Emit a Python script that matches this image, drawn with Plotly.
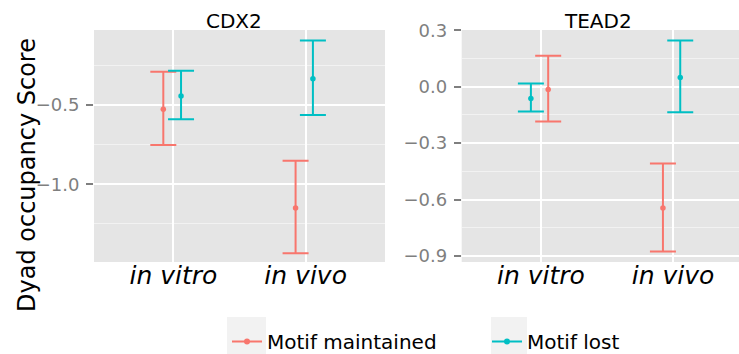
import plotly.graph_objects as go

W, H = 739, 354

categories = ["in vitro", "in vivo"]
series = ["Motif maintained", "Motif lost"]
colors = {"Motif maintained": "#F8766D", "Motif lost": "#00BFC4"}

# CDX2 panel: mean, upper, lower per category
cdx2_maint_mean = [-0.527, -1.149]
cdx2_maint_hi = [-0.290, -0.851]
cdx2_maint_lo = [-0.752, -1.435]
cdx2_lost_mean = [-0.443, -0.334]
cdx2_lost_hi = [-0.284, -0.094]
cdx2_lost_lo = [-0.590, -0.563]

# TEAD2 panel
tead2_maint_mean = [-0.014, -0.645]
tead2_maint_hi = [0.165, -0.408]
tead2_maint_lo = [-0.185, -0.876]
tead2_lost_mean = [-0.062, 0.049]
tead2_lost_hi = [0.017, 0.246]
tead2_lost_lo = [-0.132, -0.136]

# horizontal dodge of each point (category units)
cdx2_maint_dodge = [-0.076, -0.076]
cdx2_lost_dodge = [0.058, 0.055]
tead2_maint_dodge = [0.055, -0.076]
tead2_lost_dodge = [-0.076, 0.055]

panel_titles = ["CDX2", "TEAD2"]
cdx2_ticks = [-1.0, -0.5]
cdx2_minor = [-1.25, -0.75, -0.25]
tead2_ticks = [-0.9, -0.6, -0.3, 0.0, 0.3]
tead2_minor = [-0.75, -0.45, -0.15, 0.15]

FONT = "DejaVu Sans"
fig = go.Figure()

def add(mean, hi, lo, dodge, name, xa, ya):
    xs = [i + 1 + d for i, d in enumerate(dodge)]
    fig.add_trace(go.Scatter(
        x=xs, y=mean, mode="markers", name=name, showlegend=False,
        marker=dict(color=colors[name], size=5.5),
        error_y=dict(type="data", symmetric=False,
                     array=[h - m for h, m in zip(hi, mean)],
                     arrayminus=[m - l for m, l in zip(mean, lo)],
                     color=colors[name], thickness=2, width=13),
        xaxis=xa, yaxis=ya, hoverinfo="skip"))

add(cdx2_maint_mean, cdx2_maint_hi, cdx2_maint_lo, cdx2_maint_dodge, series[0], "x", "y")
add(cdx2_lost_mean, cdx2_lost_hi, cdx2_lost_lo, cdx2_lost_dodge, series[1], "x", "y")
add(tead2_maint_mean, tead2_maint_hi, tead2_maint_lo, tead2_maint_dodge, series[0], "x2", "y2")
add(tead2_lost_mean, tead2_lost_hi, tead2_lost_lo, tead2_lost_dodge, series[1], "x2", "y2")

for s in series:
    fig.add_trace(go.Scatter(x=[None], y=[None], mode="lines+markers", name=s,
                             line=dict(color=colors[s], width=2),
                             marker=dict(color=colors[s], size=6),
                             xaxis="x", yaxis="y"))

ydom = [(H - 262) / H, (H - 30) / H]
xcommon = dict(tickvals=[1, 2], ticktext=categories, showgrid=True, gridcolor="white",
               gridwidth=2, zeroline=False, ticks="", ticklabelstandoff=-4,
               tickfont=dict(family=FONT, size=25, color="black", style="italic"),
               showline=False)
ycommon = dict(showgrid=True, gridcolor="white", gridwidth=2, zeroline=False,
               ticks="outside", ticklen=7, tickwidth=1.5, tickcolor="#7F7F7F", tickformat=".1f",
               ticklabelstandoff=3,
               tickfont=dict(family=FONT, size=18, color="#7F7F7F"))

key_boxes = [dict(type="rect", xref="paper", yref="paper", layer="below",
                  x0=x0 / W, x1=x1 / W, y0=0, y1=(H - 317) / H,
                  fillcolor="#F2F2F2", line=dict(width=0))
             for x0, x1 in ((227, 266), (491, 527))]

fig.update_layout(
    width=W, height=H, margin=dict(l=0, r=0, t=0, b=0, autoexpand=False),
    paper_bgcolor="white", plot_bgcolor="#E5E5E5",
    xaxis=dict(domain=[94 / W, 385 / W], range=[0.4, 2.6], anchor="y", **xcommon),
    xaxis2=dict(domain=[461.7 / W, 1.0], range=[0.4, 2.5], anchor="y2", **xcommon),
    yaxis=dict(domain=ydom, range=[-1.49, -0.027], anchor="x", tickvals=cdx2_ticks,
               minor=dict(tickvals=cdx2_minor, showgrid=True, gridcolor="#F2F2F2", gridwidth=1),
               **ycommon),
    yaxis2=dict(domain=ydom, range=[-0.932, 0.302], anchor="x2", tickvals=tead2_ticks,
                minor=dict(tickvals=tead2_minor, showgrid=True, gridcolor="#F2F2F2", gridwidth=1),
                **ycommon),
    showlegend=True,
    legend=dict(orientation="h", x=227 / W, xanchor="left", y=-7 / H, yanchor="bottom",
                font=dict(family=FONT, size=20, color="black"), entrywidth=215,
                bgcolor="rgba(0,0,0,0)"),
    shapes=key_boxes,
    annotations=[
        dict(text=panel_titles[0], x=234 / W, y=1 - 21 / H, xref="paper", yref="paper",
             showarrow=False, font=dict(family=FONT, size=20, color="black"),
             xanchor="center", yanchor="middle"),
        dict(text=panel_titles[1], x=598 / W, y=1 - 21 / H, xref="paper", yref="paper",
             showarrow=False, font=dict(family=FONT, size=20, color="black"),
             xanchor="center", yanchor="middle"),
        dict(text="Dyad occupancy Score", x=27 / W, y=1 - 175 / H, xref="paper", yref="paper",
             showarrow=False, textangle=-90, font=dict(family=FONT, size=24, color="black"),
             xanchor="center", yanchor="middle"),
    ],
)

fig.write_html("out.html")
